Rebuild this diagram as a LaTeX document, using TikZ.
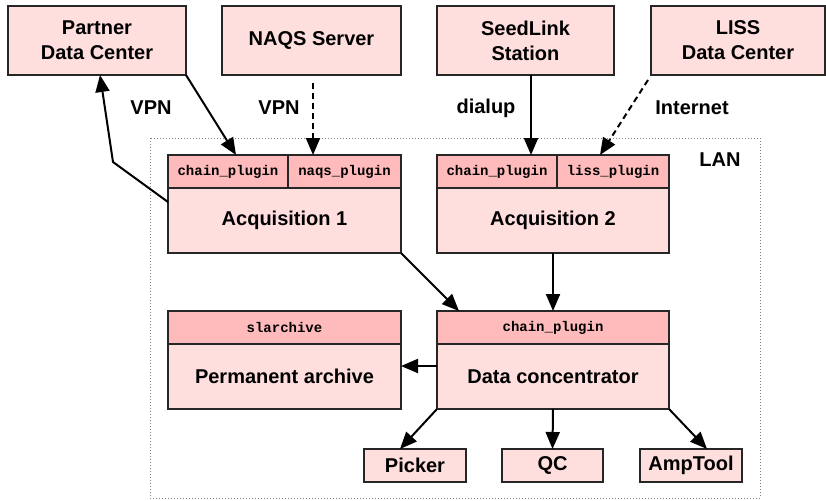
\documentclass[tikz,border=0pt]{standalone}
\usepackage{fontspec}
\setmainfont{Liberation Sans}
\setmonofont{Liberation Mono}
\usepackage{xcolor}
\usetikzlibrary{positioning, arrows.meta}

\definecolor{bodypink}{HTML}{FFDEDE}
\definecolor{headpink}{HTML}{FFBBBB}

\begin{document}
\begin{tikzpicture}[
  x=1pt, y=-1pt,
  every node/.style={font=\bfseries\fontsize{20}{25}\selectfont, align=center},
  box/.style={draw=black!85, fill=bodypink, line width=1.4pt, inner sep=0pt, outer sep=0pt},
  hdr/.style={draw=black!85, fill=headpink, line width=1.4pt, inner sep=0pt, outer sep=0pt,
              minimum height=33pt, font=\ttfamily\bfseries\fontsize{14}{16}\selectfont},
  arrow/.style={-{Triangle[length=17pt, width=14pt]}, line width=2pt},
  link/.style={arrow, dash pattern=on 6pt off 4pt}
]
  \useasboundingbox (0,0) rectangle (826,500);

  % LAN boundary
  \draw[gray, line width=0.8pt, dash pattern=on 1pt off 2pt] (150,138) rectangle (760,498);
  \node (lan) at (720,160) {LAN};

  % outside sources
  \node (partner) [box, minimum width=178pt, minimum height=69pt] at (97,40.5) {Partner\\Data Center};
  \node (naqs) [box, minimum width=179pt, minimum height=69pt] at (311.5,40.5) {NAQS Server};
  \node (seedlink) [box, minimum width=177pt, minimum height=69pt] at (525.5,40.5) {SeedLink\\Station};
  \node (liss) [box, minimum width=174pt, minimum height=69pt] at (738,40.5) {LISS\\Data Center};

  % acquisition hosts
  \node (acqa) [box, minimum width=233pt, minimum height=65pt] at (284.5,220.5) {Acquisition 1};
  \node (chaina) [hdr, minimum width=120pt, above right=0pt and 0pt of acqa.north west] {chain\_plugin};
  \node (naqsplug) [hdr, minimum width=113pt, right=0pt of chaina] {naqs\_plugin};

  \node (acqb) [box, minimum width=232pt, minimum height=65pt] at (553,220.5) {Acquisition 2};
  \node (chainb) [hdr, minimum width=120pt, above right=0pt and 0pt of acqb.north west] {chain\_plugin};
  \node (lissplug) [hdr, minimum width=112pt, right=0pt of chainb] {liss\_plugin};

  % archive and concentrator
  \node (archive) [box, minimum width=233pt, minimum height=65pt] at (284.5,376.5) {Permanent archive};
  \node (slarch) [hdr, minimum width=233pt, above=0pt of archive] {slarchive};

  \node (dc) [box, minimum width=232pt, minimum height=65pt] at (553,376.5) {Data concentrator};
  \node (chainc) [hdr, minimum width=232pt, above=0pt of dc] {chain\_plugin};

  % clients
  \node (picker) [box, minimum width=102pt, minimum height=33pt] at (415,465.5) {Picker};
  \node (qc) [box, minimum width=101pt, minimum height=33pt] at (552.5,465.5) {QC};
  \node (amptool) [box, minimum width=102pt, minimum height=33pt] at (691,465.5) {AmpTool};

  % links
  \coordinate (bend) at (113,162);
  \draw[arrow] ([yshift=18.5pt]acqa.west) -- (bend) -- ([xshift=3pt]partner.south);
  \draw[arrow] (partner.south east) -- ([xshift=8pt]chaina.north);
  \draw[link] ([xshift=1.5pt, yshift=-8pt]naqs.south) -- ([xshift=-31.5pt]naqsplug.north);
  \draw[arrow] ([xshift=5.5pt]seedlink.south) -- ([xshift=-26pt]chainb.north east);
  \draw[link] ([shift={(-3pt,-5pt)}]liss.south west) -- ([xshift=-13pt]lissplug.north);

  \node (vpna) at (151,108) {VPN};
  \node (vpnb) at (279,108) {VPN};
  \node (dialup) at (486,108) {dialup};
  \node (inet) at (692,108) {Internet};

  \draw[arrow] (acqa.south east) -- ([xshift=22pt]chainc.north west);
  \draw[arrow] (acqb.south) -- (chainc.north);
  \draw[arrow] ([yshift=10.5pt]dc.west) -- ([yshift=10.5pt]archive.east);
  \draw[arrow] (dc.south west) -- ([xshift=36pt]picker.north west);
  \draw[arrow] (dc.south) -- (qc.north);
  \draw[arrow] (dc.south east) -- ([xshift=-35pt]amptool.north east);
\end{tikzpicture}
\end{document}
